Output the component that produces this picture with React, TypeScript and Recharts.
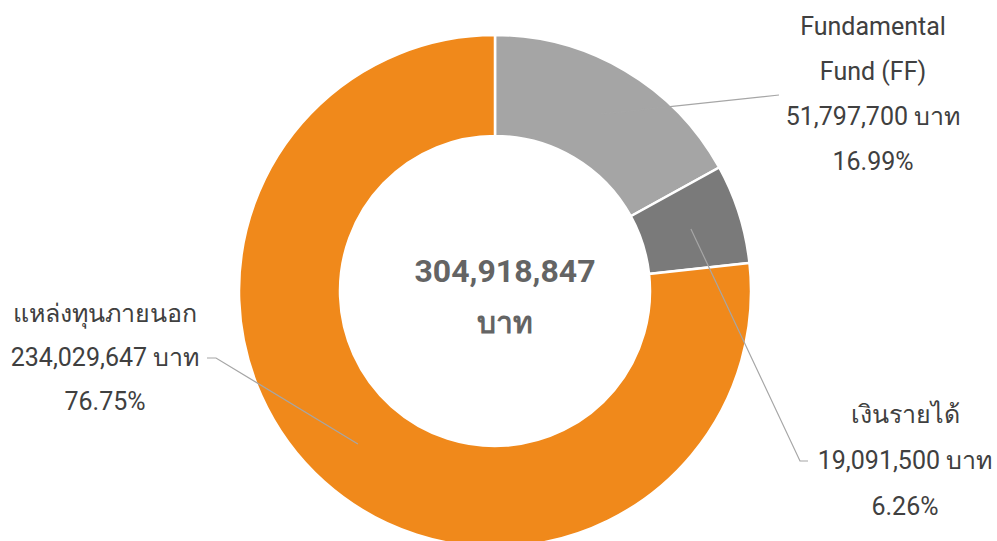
import React from 'react';
import { PieChart, Pie, Cell } from 'recharts';

const sliceNames = ['Fundamental Fund (FF)', 'เงินรายได้', 'แหล่งทุนภายนอก'];
const sliceNameLines = [['Fundamental', 'Fund (FF)'], ['เงินรายได้'], ['แหล่งทุนภายนอก']];
const sliceValues = [51797700, 19091500, 234029647];
const unitLabel = 'บาท';

const sliceColors = ['#a5a5a5', '#7a7a7a', '#f0891b'];

// label placement (layout only)
const labelLayout = [
  { elbow: [[779, 95]], textX: 873, firstBaseline: 35, step: 45 },
  { elbow: [[800, 461], [808, 461]], textX: 905, firstBaseline: 423, step: 46 },
  { elbow: [[216, 358], [207, 358]], textX: 105, firstBaseline: 322, step: 44 },
];

const data = sliceNames.map((name, i) => ({ name, value: sliceValues[i] }));
const total = sliceValues.reduce((a, b) => a + b, 0);

const fmt = (n: number) => n.toLocaleString('en-US');
const RAD = Math.PI / 180;
const FONT = "Roboto, 'Noto Sans', 'DejaVu Sans', sans-serif";

const renderLabel = (props: any) => {
  const { cx, cy, midAngle, innerRadius, outerRadius, index, value } = props;
  const r = (innerRadius + outerRadius) / 2;
  const sx = cx + r * Math.cos(-midAngle * RAD);
  const sy = cy + r * Math.sin(-midAngle * RAD);
  const lay = labelLayout[index];
  const pts = [[sx, sy], ...lay.elbow].map((p) => p.join(',')).join(' ');
  const lines = [
    ...sliceNameLines[index],
    `${fmt(value)} ${unitLabel}`,
    `${((value / total) * 100).toFixed(2)}%`,
  ];
  return (
    <g key={`lbl-${index}`}>
      <polyline points={pts} fill="none" stroke="#a6a6a6" strokeWidth={1.2} />
      {lines.map((t, k) => (
        <text
          key={k}
          x={lay.textX}
          y={lay.firstBaseline + k * lay.step}
          textAnchor="middle"
          fill="#404040"
          fontSize={25}
          fontFamily={FONT}
        >
          {t}
        </text>
      ))}
    </g>
  );
};

export default function App() {
  return (
    <div style={{ position: 'absolute', left: 0, top: 0, width: 997, height: 541, background: '#fff' }}>
      <PieChart width={997} height={541} margin={{ top: 0, right: 0, bottom: 0, left: 0 }}>
        <Pie
          data={data}
          dataKey="value"
          nameKey="name"
          cx={495}
          cy={291}
          innerRadius={155}
          outerRadius={256}
          startAngle={90}
          endAngle={-270}
          stroke="#ffffff"
          strokeWidth={2.5}
          label={renderLabel}
          labelLine={false}
          isAnimationActive={false}
        >
          {data.map((d, i) => (
            <Cell key={d.name} fill={sliceColors[i]} />
          ))}
        </Pie>
        <text x={505} y={282} textAnchor="middle" fill="#646464" fontSize={32} fontWeight="bold" fontFamily={FONT}>
          {fmt(total)}
        </text>
        <text x={505} y={333} textAnchor="middle" fill="#646464" fontSize={30} fontWeight="bold" fontFamily={FONT}>
          {unitLabel}
        </text>
      </PieChart>
    </div>
  );
}
